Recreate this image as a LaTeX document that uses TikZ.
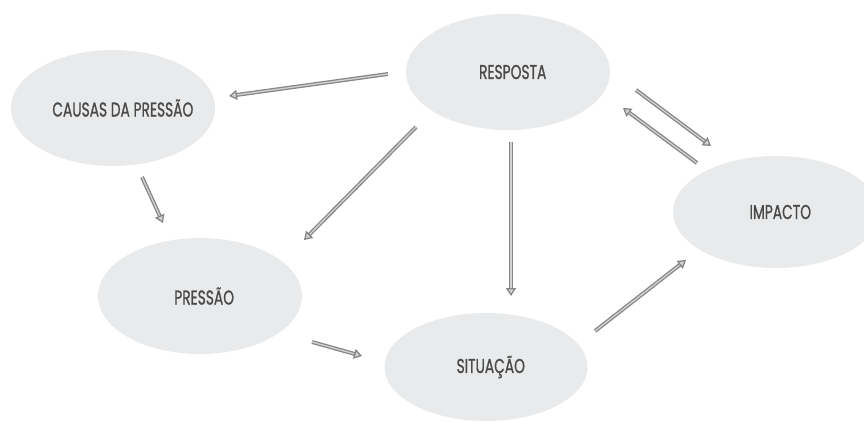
\documentclass[tikz,border=0pt]{standalone}
\usepackage{fontspec}
\usepackage{graphicx}
\setmainfont{Poppins}
\usetikzlibrary{arrows.meta, shapes.geometric}

\definecolor{blobgray}{HTML}{E9EAEB}
\definecolor{txtgray}{HTML}{4A4A4A}
\definecolor{arrgray}{HTML}{868686}
\definecolor{arrcore}{HTML}{D2D2D2}

% narrow capitals for the stage names, centred in a zero-width box
% so that the label never widens its ellipse; the small lead-in
% space balances the glyphs optically inside the ellipse
\newsavebox{\stagebox}
\newcommand{\stagename}[1]{%
  \sbox{\stagebox}{\scalebox{0.69}[1]{#1}}%
  \makebox[0pt][c]{\hspace*{0.14\wd\stagebox}\usebox{\stagebox}}}

\tikzset{
  blob/.style={ellipse, fill=blobgray, inner sep=0pt, text=txtgray,
    font=\fontsize{20}{22}\selectfont\addfontfeatures{FakeBold=1.2}},
  flow/.style={draw=arrgray, line width=1.3pt, double=arrcore, double distance=1.3pt,
    -{Triangle[open, length=8pt, width=10pt, fill=arrcore]}}
}

\begin{document}
\begin{tikzpicture}[x=1pt, y=-1pt]
  \fill[white] (0,0) rectangle (864,421);
  \useasboundingbox (0,0) rectangle (864,421);

  % the five stages
  \node[blob, minimum width=204pt, minimum height=116pt] (causas) at (113,108) {\stagename{CAUSAS DA PRESSÃO}};
  \node[blob, minimum width=204pt, minimum height=116pt] (resp)   at (508,72)  {\stagename{RESPOSTA}};
  \node[blob, minimum width=204pt, minimum height=116pt] (press)  at (200,296) {\stagename{PRESSÃO}};
  \node[blob, minimum width=203pt, minimum height=108pt] (sit)    at (486,367) {\stagename{SITUAÇÃO}};
  \node[blob, minimum width=206pt, minimum height=112pt] (imp)    at (776,212) {\stagename{IMPACTO}};

  % links between stages
  \draw[flow] ([shift={(-120,2)}]resp.center)  -- ([shift={(116,-12)}]causas.center);
  \draw[flow] ([shift={(-92,55)}]resp.center)  -- ([shift={(104,-56)}]press.center);
  \draw[flow] ([shift={(29,69)}]causas.center) -- ([shift={(-37,-73)}]press.center);
  \draw[flow] ([shift={(3,70)}]resp.center)    -- ([shift={(25,-71)}]sit.center);
  \draw[flow] ([shift={(128,18)}]resp.center)  -- ([shift={(-65,-66)}]imp.center);
  \draw[flow] ([shift={(-79,-49)}]imp.center)  -- ([shift={(115,36)}]resp.center);
  \draw[flow] ([shift={(112,46)}]press.center) -- ([shift={(-124,-11)}]sit.center);
  \draw[flow] ([shift={(109,-36)}]sit.center)  -- ([shift={(-90,48)}]imp.center);
\end{tikzpicture}
\end{document}
